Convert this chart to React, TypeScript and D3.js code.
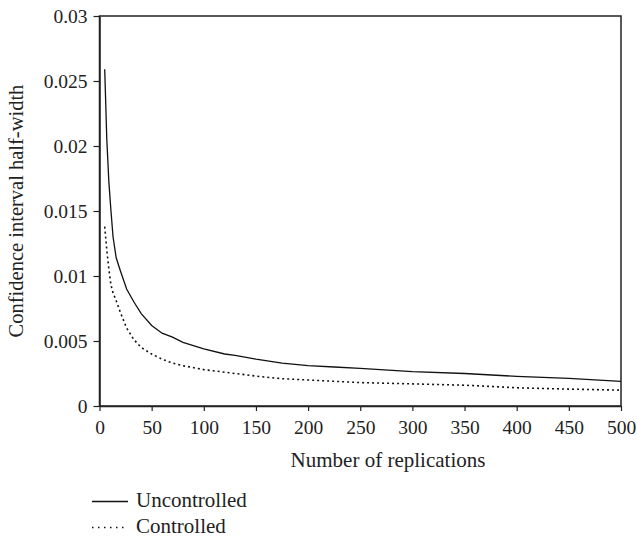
import React, { useRef, useEffect } from 'react';
import * as d3 from 'd3';

const replications = [5, 7, 9, 11, 13, 16, 20, 26, 33, 40, 50, 60, 70, 80, 100, 120, 130, 150, 175, 200, 225, 250, 300, 350, 400, 450, 500];
const uncontrolled = [0.0259, 0.0205, 0.0172, 0.0150, 0.0130, 0.0114, 0.0104, 0.0090, 0.0080, 0.0071, 0.0062, 0.0056, 0.0053, 0.0049, 0.0044, 0.0040, 0.0039, 0.0036, 0.0033, 0.0031, 0.0030, 0.0029, 0.00265, 0.0025, 0.00228, 0.00212, 0.0019];
const controlled = [0.0138, 0.0120, 0.0105, 0.0093, 0.0087, 0.0081, 0.0072, 0.0060, 0.0051, 0.0045, 0.0040, 0.0036, 0.0033, 0.0031, 0.0028, 0.0026, 0.0025, 0.0023, 0.0021, 0.0020, 0.0019, 0.0018, 0.0017, 0.0016, 0.0014, 0.0013, 0.00122];

const xTicks = [0, 50, 100, 150, 200, 250, 300, 350, 400, 450, 500];
const yTicks = [0, 0.005, 0.01, 0.015, 0.02, 0.025, 0.03];
const yTickLabels = ['0', '0.005', '0.01', '0.015', '0.02', '0.025', '0.03'];

const App = () => {
  const svgRef = useRef(null);

  useEffect(() => {
    const width = 637;
    const height = 536;
    const svg = d3.select(svgRef.current).attr('width', width).attr('height', height);
    svg.selectAll('*').remove();

    const font = '"Liberation Serif", "DejaVu Serif", serif';
    const x = d3.scaleLinear().domain([0, 500]).range([99.5, 621]);
    const y = d3.scaleLinear().domain([0, 0.03]).range([406, 16]);

    // frame around the plot
    svg.append('rect')
      .attr('x', x(0)).attr('y', y(0.03))
      .attr('width', x(500) - x(0)).attr('height', y(0) - y(0.03))
      .attr('fill', 'none').attr('stroke', '#222').attr('stroke-width', 1.5);

    const xAxis = svg.append('g')
      .attr('transform', `translate(0,${y(0)})`)
      .attr('font-family', font)
      .call(d3.axisBottom(x).tickValues(xTicks).tickSize(5).tickSizeOuter(0).tickPadding(9));
    xAxis.select('.domain').attr('stroke', '#222').attr('stroke-width', 1.5);
    xAxis.selectAll('line').attr('stroke', '#222').attr('stroke-width', 1.2);
    xAxis.selectAll('text').attr('font-family', font).attr('font-size', 19.5).attr('fill', '#222');

    const yAxis = svg.append('g')
      .attr('transform', `translate(${x(0)},0)`)
      .attr('font-family', font)
      .call(d3.axisLeft(y).tickValues(yTicks).tickFormat((d, i) => yTickLabels[i]).tickSize(6).tickSizeOuter(0).tickPadding(6));
    yAxis.select('.domain').attr('stroke', '#222').attr('stroke-width', 1.5);
    yAxis.selectAll('line').attr('stroke', '#222').attr('stroke-width', 1.2);
    yAxis.selectAll('text').attr('font-family', font).attr('font-size', 19.5).attr('fill', '#222');

    const line = d3.line().x(d => x(d[0])).y(d => y(d[1]));

    svg.append('path')
      .datum(replications.map((r, i) => [r, uncontrolled[i]]))
      .attr('d', line)
      .attr('fill', 'none').attr('stroke', '#111').attr('stroke-width', 1.3);

    svg.append('path')
      .datum(replications.map((r, i) => [r, controlled[i]]))
      .attr('d', line)
      .attr('fill', 'none').attr('stroke', '#111').attr('stroke-width', 1.6)
      .attr('stroke-dasharray', '2,3');

    svg.append('text')
      .attr('x', 388).attr('y', 466.5)
      .attr('text-anchor', 'middle')
      .attr('font-family', font).attr('font-size', 21).attr('fill', '#222')
      .text('Number of replications');

    svg.append('text')
      .attr('transform', `translate(23,${(y(0) + y(0.03)) / 2}) rotate(-90)`)
      .attr('text-anchor', 'middle')
      .attr('font-family', font).attr('font-size', 20.5).attr('fill', '#222')
      .text('Confidence interval half-width');

    // legend
    const legend = [
      { label: 'Uncontrolled', dash: null, y: 506.5 },
      { label: 'Controlled', dash: '1.5,4.5', y: 532.5 }
    ];
    legend.forEach(item => {
      svg.append('line')
        .attr('x1', 92).attr('x2', 128).attr('y1', item.y - 5).attr('y2', item.y - 5)
        .attr('stroke', '#111').attr('stroke-width', 1.3)
        .attr('stroke-dasharray', item.dash);
      svg.append('text')
        .attr('x', 136).attr('y', item.y)
        .attr('font-family', font).attr('font-size', 21).attr('fill', '#222')
        .text(item.label);
    });
  }, []);

  return (
    <div style={{ position: 'absolute', left: 0, top: 0 }}>
      <svg ref={svgRef}></svg>
    </div>
  );
};

export default App;
